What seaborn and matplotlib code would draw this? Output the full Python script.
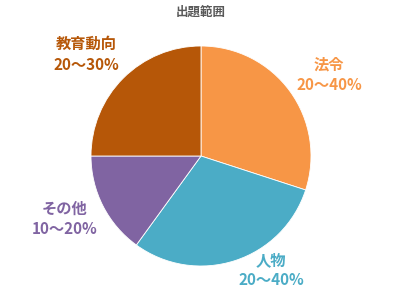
import matplotlib
matplotlib.use("Agg")
import matplotlib.pyplot as plt
import seaborn as sns

categories = ["法令", "人物", "その他", "教育動向"]
values = [30, 30, 15, 25]
ranges = ["20〜40%", "20〜40%", "10〜20%", "20〜30%"]
colors = ["#F79646", "#4BACC6", "#8064A2", "#B65708"]
title = "出題範囲"

sns.set_theme(style="white")
plt.rcParams['font.family'] = ['Noto Sans CJK JP', 'DejaVu Sans']

fig = plt.figure(figsize=(4.0, 2.91), dpi=100)
ax = fig.add_axes([0, 0, 1, 1])
R = 110.0  # pixels per data unit
cx, cy = 201.0, 156.0

ax.pie(values, colors=colors, startangle=90, counterclock=False,
       radius=1.0, center=(0, 0), frame=True,
       wedgeprops=dict(linewidth=0.6, edgecolor='white'))
ax.set_xlim(-cx / R, (400 - cx) / R)
ax.set_ylim(-(291 - cy) / R, cy / R)
ax.set_aspect('equal')
ax.axis('off')

# label positions in pixel coords (center x, first line y, second line y)
label_px = [(329, 65, 85), (271, 260, 280), (65, 209, 229), (86, 44, 65)]

def px(x, y):
    return (x - cx) / R, (cy - y) / R

for cat, rng, col, (lx, y1, y2) in zip(categories, ranges, colors, label_px):
    ax.text(*px(lx, y1), cat, ha='center', va='center', color=col,
            fontsize=11, fontweight='bold')
    ax.text(*px(lx, y2), rng, ha='center', va='center', color=col,
            fontsize=11, fontweight='bold')

ax.text(*px(201, 12), title, ha='center', va='center', color='#595959',
        fontsize=9, fontweight='bold')

fig.savefig("out.png", dpi=100)
